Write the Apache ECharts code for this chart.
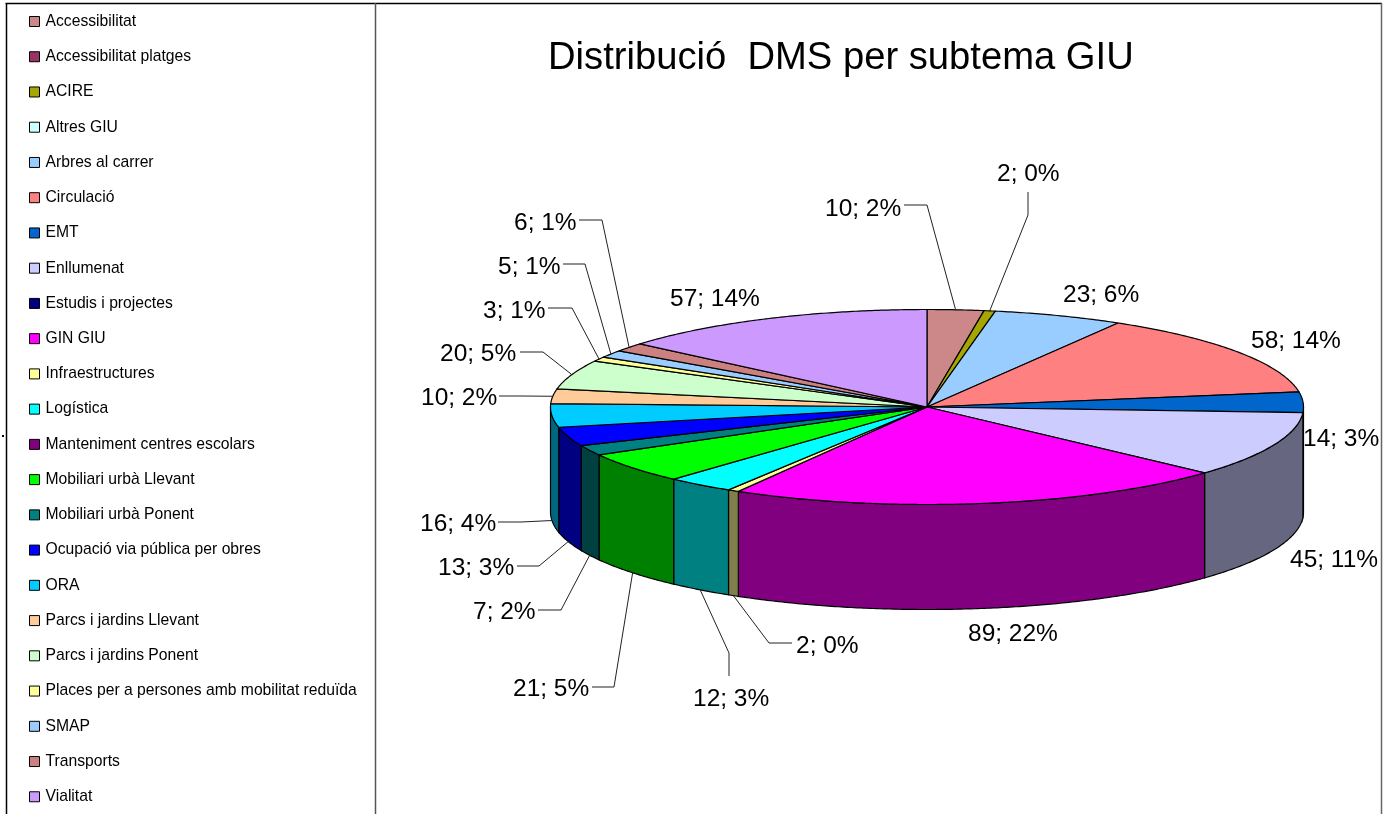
<!DOCTYPE html>
<html><head><meta charset="utf-8">
<style>html,body{margin:0;padding:0;background:#fff;overflow:hidden}#c{width:1391px;height:814px}</style>
<script src="https://cdn.jsdelivr.net/npm/echarts@6/dist/echarts.min.js"></script>
</head><body><div id="c"></div>
<script>
const categories = ['Accessibilitat','Accessibilitat platges','ACIRE','Altres GIU','Arbres al carrer','Circulació','EMT','Enllumenat','Estudis i projectes','GIN GIU','Infraestructures','Logística','Manteniment centres escolars','Mobiliari urbà Llevant','Mobiliari urbà Ponent','Ocupació via pública per obres','ORA','Parcs i jardins Llevant','Parcs i jardins Ponent','Places per a persones amb mobilitat reduïda','SMAP','Transports','Vialitat'];
const values = [10,0,2,0,23,58,14,45,0,89,2,12,0,21,7,13,16,10,20,3,5,6,57];
const colors = ['#CC8888','#993366','#A6A600','#CCFFFF','#99CCFF','#FF8080','#0066CC','#CCCCFF','#000080','#FF00FF','#FFFF99','#00FFFF','#800080','#00FF00','#008080','#0000FF','#00CCFF','#FFCC99','#CCFFCC','#FFFF99','#99CCFF','#CC8080','#CC99FF'];

// layout only: pie projection and label placement
const PIE = {cx:927, cy:407, rx:376.5, ry:97.5, depth:105};
const FONT = '24.5px "Liberation Sans", Arial, sans-serif';
// index -> [text left, text middle y, leader start x, start y, elbow x, elbow y]
const labelLayout = {
  0:[825,209,904,205,927,205],
  2:[997,174,1028,192,1028,215],
  4:[1063,295],
  5:[1251,341],
  6:[1303,439],
  7:[1290,560],
  9:[968,634],
  10:[796,646,792,643,769,643],
  11:[693,699,729,676,729,653],
  13:[513,689,592,687,614,687],
  14:[473,612,538,610,561,610],
  15:[438,568,517,566,539,566],
  16:[420,524,498,522,521,522],
  17:[421,398,499,396,521,396],
  18:[440,354,520,352,543,352],
  19:[483,311,548,308,572,308],
  20:[498,267,563,264,585,264],
  21:[514,223,579,220,602,220],
  22:[670,299]
};

const total = values.reduce((a,b)=>a+b,0);
const starts = []; values.reduce((acc,v,i)=>{starts[i]=acc;return acc+v;},0);
const rad = v => v/total*2*Math.PI;
const rim = (a,dy) => [PIE.cx+PIE.rx*Math.sin(a), PIE.cy-PIE.ry*Math.cos(a)+(dy||0)];
function arc(a0,a1,dy){
  const n=Math.max(2,Math.ceil((a1-a0)/(Math.PI/360))), pts=[];
  for(let k=0;k<=n;k++) pts.push(rim(a0+(a1-a0)*k/n,dy));
  return pts;
}
function darken(hex){
  const n=parseInt(hex.slice(1),16);
  const h=c=>Math.round(c/2).toString(16).padStart(2,'0');
  return '#'+h(n>>16&255)+h(n>>8&255)+h(n&255);
}

function makeRender(i){
  return function(params,api){
    const v=api.value(0), children=[];
    if(!v) return {type:'group',children};
    const a0=rad(starts[i]), a1=rad(starts[i]+v), mid=(a0+a1)/2;
    // side wall: only the part on the front half of the ellipse
    const s0=Math.max(a0,Math.PI/2), s1=Math.min(a1,3*Math.PI/2);
    if(s1>s0){
      const top=arc(s0,s1,0), bot=arc(s0,s1,PIE.depth).reverse();
      children.push({type:'polygon',z2:1,shape:{points:top.concat(bot)},style:{fill:darken(colors[i]),stroke:'#000',lineWidth:1.2}});
    }
    children.push({type:'polygon',z2:2,shape:{points:[[PIE.cx,PIE.cy]].concat(arc(a0,a1,0))},style:{fill:colors[i],stroke:'#000',lineWidth:1.2,lineJoin:'round'}});
    const L=labelLayout[i];
    if(L){
      const pct=Math.round(v/total*100);
      children.push({type:'text',z2:6,style:{text:v+'; '+pct+'%',x:L[0],y:L[1],font:FONT,fill:'#000',align:'left',verticalAlign:'middle'}});
      if(L.length>2){
        const front=Math.cos(mid)<0;
        const end=rim(mid,front?PIE.depth:0);
        children.push({type:'polyline',z2:5,shape:{points:[[L[2],L[3]],[L[4],L[5]],end]},style:{fill:'none',stroke:'#222',lineWidth:1}});
      }
    }
    return {type:'group',children};
  };
}

const frame = [
  {type:'line',shape:{x1:5.5,y1:3.5,x2:1382,y2:3.5},style:{stroke:'#000',lineWidth:1.5}},
  {type:'line',shape:{x1:6.5,y1:3,x2:6.5,y2:814},style:{stroke:'#000',lineWidth:1.5}},
  {type:'line',shape:{x1:375.5,y1:3,x2:375.5,y2:814},style:{stroke:'#555',lineWidth:1.5}},
  {type:'line',shape:{x1:1381.5,y1:3,x2:1381.5,y2:814},style:{stroke:'#666',lineWidth:1.5}},
  {type:'rect',shape:{x:2,y:435,width:2,height:2},style:{fill:'#000'}}
];

const chart=echarts.init(document.getElementById('c'),null,{renderer:'canvas'});
chart.setOption({
  animation:false,
  backgroundColor:'#fff',
  title:{text:'Distribució  DMS per subtema GIU',left:548,top:39,padding:0,
    textStyle:{fontFamily:'"Liberation Sans", Arial, sans-serif',fontSize:38.2,fontWeight:'normal',color:'#000'}},
  legend:{orient:'vertical',left:29,top:13.5,padding:0,itemWidth:10,itemHeight:10,itemGap:19.24,icon:'rect',selectedMode:false,
    itemStyle:{borderColor:'#000',borderWidth:1},
    data:categories,
    textStyle:{fontFamily:'"Liberation Sans", Arial, sans-serif',fontSize:15.7,lineHeight:16,color:'#000',padding:[0,0,0,1]}},
  graphic:frame,
  series:categories.map((name,i)=>({
    type:'custom',name,coordinateSystem:'none',silent:true,clip:false,
    itemStyle:{color:colors[i]},
    data:[[values[i]]],
    renderItem:makeRender(i)
  }))
});
</script></body></html>
